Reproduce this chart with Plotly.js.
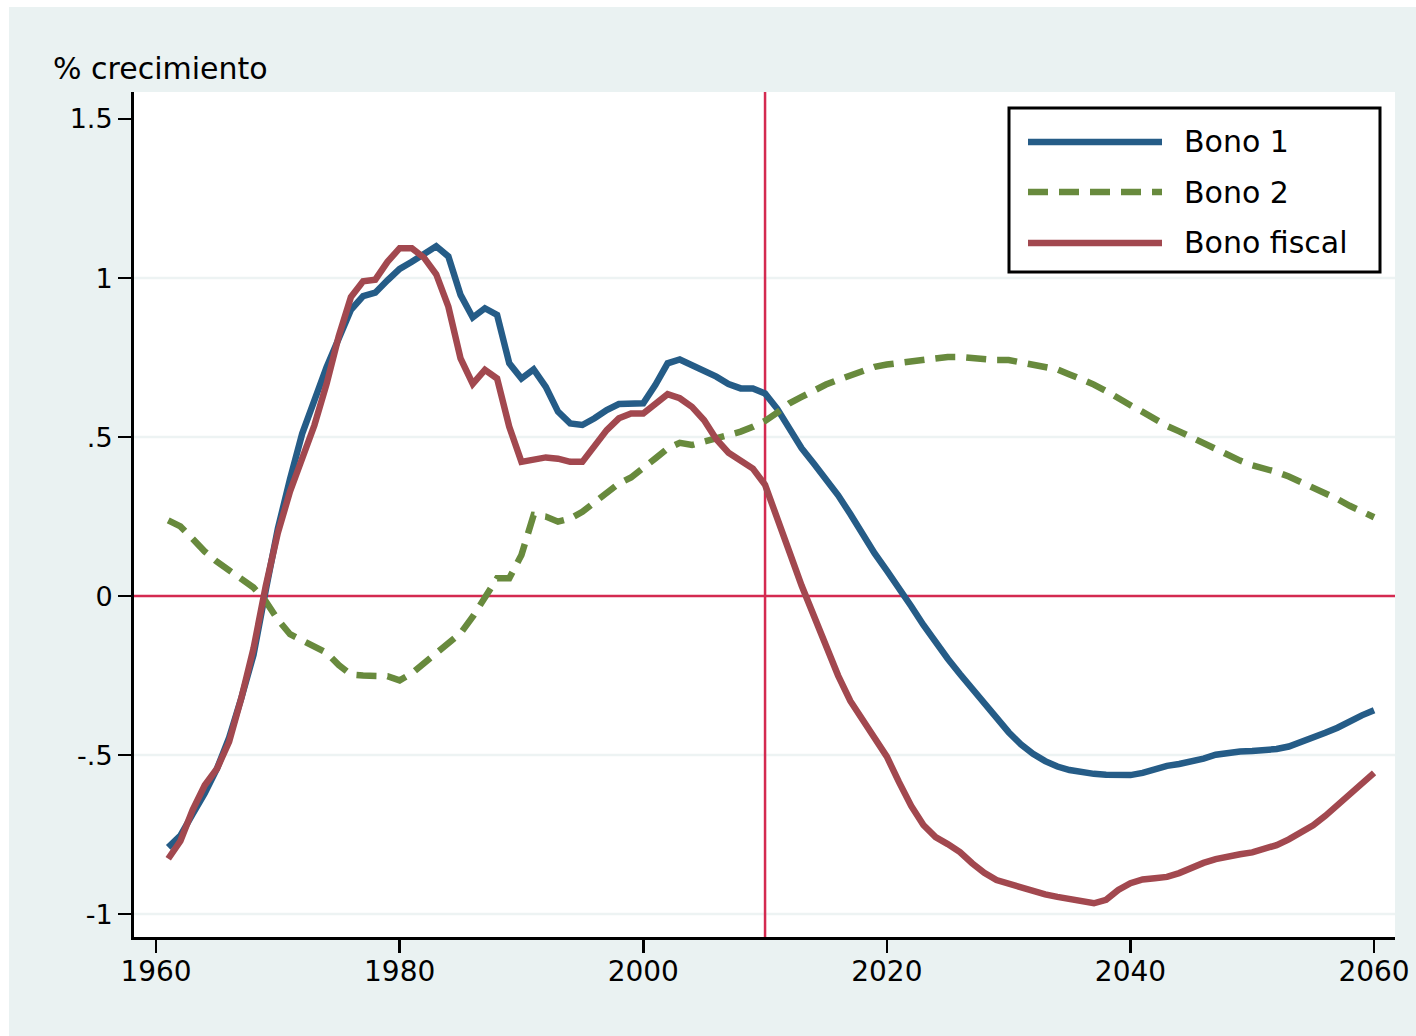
<!DOCTYPE html>
<html>
<head>
<meta charset="utf-8">
<script src="https://cdn.plot.ly/plotly-3.0.1.min.js"></script>
<style>
  html, body { margin: 0; padding: 0; background: #ffffff; }
  #chart { width: 1416px; height: 1036px; }
</style>
</head>
<body>
<div id="chart"></div>
<script>
// ---------------- DATA ----------------
const years = [
  1961,1962,1963,1964,1965,1966,1967,1968,1969,1970,
  1971,1972,1973,1974,1975,1976,1977,1978,1979,1980,
  1981,1982,1983,1984,1985,1986,1987,1988,1989,1990,
  1991,1992,1993,1994,1995,1996,1997,1998,1999,2000,
  2001,2002,2003,2004,2005,2006,2007,2008,2009,2010,
  2011,2012,2013,2014,2015,2016,2017,2018,2019,2020,
  2021,2022,2023,2024,2025,2026,2027,2028,2029,2030,
  2031,2032,2033,2034,2035,2036,2037,2038,2039,2040,
  2041,2042,2043,2044,2045,2046,2047,2048,2049,2050,
  2051,2052,2053,2054,2055,2056,2057,2058,2059,2060
];

const bono1 = [
  -0.790,-0.753,-0.686,-0.620,-0.543,-0.445,-0.321,-0.185, 0.017, 0.212,
   0.368, 0.511, 0.615, 0.720, 0.810, 0.900, 0.943, 0.954, 0.993, 1.029,
   1.051, 1.077, 1.100, 1.068, 0.947, 0.876, 0.905, 0.884, 0.732, 0.684,
   0.713, 0.658, 0.580, 0.543, 0.538, 0.559, 0.585, 0.604, 0.604, 0.606,
   0.664, 0.732, 0.744, 0.726, 0.711, 0.690, 0.667, 0.653, 0.653, 0.637,
   0.589, 0.524, 0.465, 0.417, 0.370, 0.317, 0.258, 0.193, 0.134, 0.080,
   0.027,-0.032,-0.091,-0.147,-0.197,-0.245,-0.292,-0.339,-0.385,-0.428,
  -0.466,-0.496,-0.519,-0.536,-0.547,-0.554,-0.559,-0.562,-0.564,-0.563,
  -0.556,-0.544,-0.534,-0.528,-0.522,-0.511,-0.499,-0.493,-0.489,-0.487,
  -0.485,-0.481,-0.473,-0.460,-0.446,-0.430,-0.414,-0.392,-0.375,-0.359
];

const bono2 = [
   0.238, 0.219, 0.180, 0.140, 0.108, 0.079, 0.053, 0.027,-0.016,-0.074,
  -0.120,-0.139,-0.159,-0.178,-0.217,-0.247,-0.250,-0.250,-0.252,-0.265,
  -0.243,-0.211,-0.178,-0.145,-0.117,-0.065,-0.002, 0.056, 0.056, 0.129,
   0.255, 0.250, 0.234, 0.244, 0.265, 0.293, 0.323, 0.354, 0.373, 0.401,
   0.433, 0.464, 0.482, 0.475, 0.485, 0.496, 0.506, 0.517, 0.532, 0.551,
   0.577, 0.606, 0.626, 0.648, 0.665, 0.680, 0.695, 0.709, 0.721, 0.728,
   0.733, 0.736, 0.742, 0.747, 0.752, 0.752, 0.748, 0.745, 0.742, 0.742,
   0.736, 0.730, 0.722, 0.713, 0.697, 0.683, 0.665, 0.645, 0.620, 0.600,
   0.579, 0.556, 0.535, 0.518, 0.500, 0.479, 0.459, 0.441, 0.426, 0.411,
   0.402, 0.390, 0.376, 0.358, 0.343, 0.326, 0.305, 0.284, 0.264, 0.248
];

const bonoFiscal = [
  -0.826,-0.770,-0.673,-0.595,-0.543,-0.458,-0.321,-0.165, 0.030, 0.199,
   0.329, 0.440, 0.537, 0.667, 0.817, 0.940, 0.990, 0.995, 1.051, 1.094,
   1.094, 1.064, 1.012, 0.910, 0.747, 0.667, 0.711, 0.684, 0.532, 0.422,
   0.428, 0.436, 0.432, 0.422, 0.422, 0.472, 0.522, 0.559, 0.574, 0.574,
   0.606, 0.635, 0.622, 0.595, 0.553, 0.493, 0.451, 0.428, 0.401, 0.350,
   0.250, 0.139, 0.033,-0.063,-0.153,-0.250,-0.330,-0.390,-0.445,-0.505,
  -0.585,-0.660,-0.720,-0.758,-0.780,-0.805,-0.840,-0.870,-0.893,-0.905,
  -0.918,-0.928,-0.938,-0.946,-0.954,-0.962,-0.966,-0.955,-0.924,-0.903,
  -0.891,-0.887,-0.883,-0.871,-0.853,-0.839,-0.827,-0.818,-0.812,-0.806,
  -0.797,-0.783,-0.765,-0.745,-0.721,-0.691,-0.658,-0.623,-0.587,-0.556
];

const seriesNames = ['Bono 1', 'Bono 2', 'Bono fiscal'];

const xTickVals = [1960, 1980, 2000, 2020, 2040, 2060];
const xTickText = ['1960', '1980', '2000', '2020', '2040', '2060'];
const yTickVals = [-1, -0.5, 0, 0.5, 1, 1.5];
const yTickText = ['-1', '-.5', '0', '.5', '1', '1.5'];
const gridLevels = [-1, -0.5, 0.5, 1];

const refYear = 2010;   // vertical reference line
const refLevel = 0;     // horizontal reference line

// ---------------- STYLE ----------------
const FONT = 'DejaVu Sans, Liberation Sans, Arial, sans-serif';
const colors = ['#255C87', '#688A3D', '#A2484F'];
const dashes = ['solid', '20px,11px', 'solid'];
const LW = 6.5;
const BG = '#EAF2F2';
const GRID = '#EDF3F3';
const REF = '#D42A50';

const W = 1416, H = 1036;
const M = { l: 134, r: 21, t: 92, b: 99 };
const plotW = W - M.l - M.r, plotH = H - M.t - M.b;
const px = (p) => (p - M.l) / plotW;          // pixel x -> paper x
const py = (p) => (H - M.b - p) / plotH;      // pixel y -> paper y

const seriesData = [bono1, bono2, bonoFiscal];

const traces = seriesData.map((ys, i) => ({
  type: 'scatter',
  mode: 'lines',
  x: years,
  y: ys,
  name: seriesNames[i],
  line: { color: colors[i], width: LW, dash: dashes[i] },
  hoverinfo: 'skip'
}));

const shapes = [
  // outer light background (thin white frame at top-left)
  { type: 'rect', xref: 'paper', yref: 'paper', layer: 'below',
    x0: px(9), x1: px(W + 5), y0: py(H + 5), y1: py(7),
    fillcolor: BG, line: { width: 0 } },
  // white plot region
  { type: 'rect', xref: 'paper', yref: 'paper', layer: 'below',
    x0: 0, x1: 1, y0: 0, y1: 1, fillcolor: '#ffffff', line: { width: 0 } }
];

// gridlines
gridLevels.forEach((g) => {
  shapes.push({ type: 'line', xref: 'paper', yref: 'y', layer: 'below',
    x0: 0, x1: 1, y0: g, y1: g, line: { color: GRID, width: 2.5 } });
});

// reference lines
shapes.push({ type: 'line', xref: 'x', yref: 'paper', layer: 'below',
  x0: refYear, x1: refYear, y0: 0, y1: 1, line: { color: REF, width: 2.5 } });
shapes.push({ type: 'line', xref: 'paper', yref: 'y', layer: 'below',
  x0: 0, x1: 1, y0: refLevel, y1: refLevel, line: { color: REF, width: 2.5 } });

// legend box
shapes.push({ type: 'rect', xref: 'paper', yref: 'paper', layer: 'above',
  x0: px(1009), x1: px(1380), y0: py(272), y1: py(108),
  fillcolor: '#ffffff', line: { color: '#000000', width: 3 } });

const annotations = [];
const legendRows = [142, 192, 243];
seriesNames.forEach((nm, i) => {
  shapes.push({ type: 'line', xref: 'paper', yref: 'paper', layer: 'above',
    x0: px(1028), x1: px(1162), y0: py(legendRows[i]), y1: py(legendRows[i]),
    line: { color: colors[i], width: LW, dash: dashes[i] } });
  annotations.push({ xref: 'paper', yref: 'paper', x: px(1182), y: py(legendRows[i]),
    xanchor: 'left', yanchor: 'middle', showarrow: false, text: nm,
    font: { family: FONT, size: 30, color: '#000' } });
});

const layout = {
  width: W, height: H,
  margin: { l: M.l, r: M.r, t: M.t, b: M.b, pad: 0 },
  paper_bgcolor: '#ffffff',
  plot_bgcolor: '#ffffff',
  font: { family: FONT, size: 28, color: '#000000' },
  showlegend: false,
  title: {
    text: '% crecimiento',
    xref: 'container', yref: 'container',
    x: 53 / W, xanchor: 'left',
    y: 1 - 68 / H, yanchor: 'middle',
    font: { family: FONT, size: 30, color: '#000000' }
  },
  xaxis: {
    range: [1958.19, 2061.72],
    tickmode: 'array', tickvals: xTickVals, ticktext: xTickText,
    showgrid: false, zeroline: false,
    showline: true, linecolor: '#000000', linewidth: 3,
    ticks: 'outside', ticklen: 13, tickwidth: 2.5, tickcolor: '#000000',
    ticklabelstandoff: -6,
    tickfont: { family: FONT, size: 28, color: '#000000' },
    fixedrange: true
  },
  yaxis: {
    range: [-1.072, 1.585],
    tickmode: 'array', tickvals: yTickVals, ticktext: yTickText,
    showgrid: false, zeroline: false,
    showline: true, linecolor: '#000000', linewidth: 3,
    ticks: 'outside', ticklen: 13, tickwidth: 2.5, tickcolor: '#000000',
    tickfont: { family: FONT, size: 27, color: '#000000' },
    fixedrange: true
  },
  shapes: shapes,
  annotations: annotations
};

Plotly.newPlot('chart', traces, layout, { displayModeBar: false, staticPlot: true });
</script>
</body>
</html>
